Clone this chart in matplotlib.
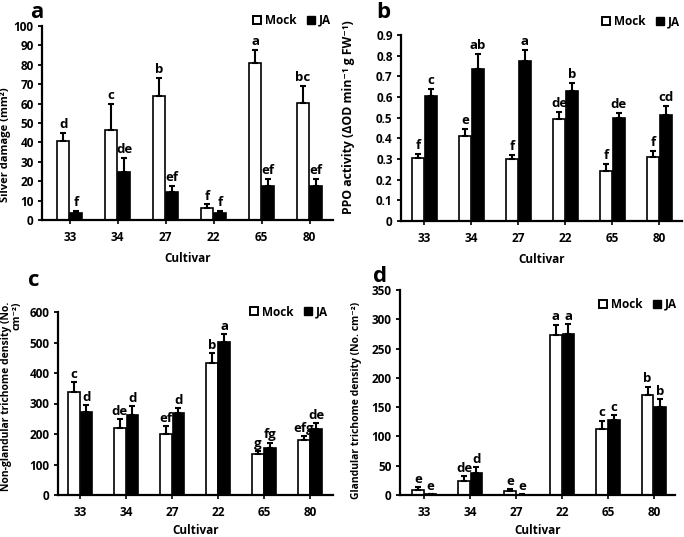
import matplotlib
matplotlib.use("Agg")
import matplotlib.pyplot as plt
from matplotlib.lines import Line2D
import numpy as np

plt.rcParams['font.family'] = ['Open Sans', 'DejaVu Sans']
plt.rcParams['font.weight'] = 'bold'

cultivars = ["33", "34", "27", "22", "65", "80"]

# Panel a: silver damage
a_mock = [40.5, 46.5, 64, 6, 81, 60.5]
a_mock_err = [4.5, 13.5, 9, 2, 6.5, 8.5]
a_ja = [3.5, 25, 14.5, 3.5, 17.5, 17.5]
a_ja_err = [1, 7, 3, 1, 3.5, 3.5]
a_mock_let = ["d", "c", "b", "f", "a", "bc"]
a_ja_let = ["f", "de", "ef", "f", "ef", "ef"]

# Panel b: PPO activity
b_mock = [0.303, 0.413, 0.30, 0.493, 0.243, 0.31]
b_mock_err = [0.021, 0.032, 0.02, 0.033, 0.031, 0.029]
b_ja = [0.606, 0.734, 0.776, 0.630, 0.50, 0.514]
b_ja_err = [0.031, 0.074, 0.051, 0.036, 0.024, 0.044]
b_mock_let = ["f", "e", "f", "de", "f", "f"]
b_ja_let = ["c", "ab", "a", "b", "de", "cd"]

# Panel c: non-glandular trichome density
c_mock = [338, 220, 200, 434, 136, 180]
c_mock_err = [31, 30, 25, 30, 8, 14]
c_ja = [273, 262, 268, 503, 155, 218]
c_ja_err = [22, 30, 16, 25, 17, 17]
c_mock_let = ["c", "de", "ef", "b", "g", "efg"]
c_ja_let = ["d", "d", "d", "a", "fg", "de"]

# Panel d: glandular trichome density
d_mock = [8, 24.5, 6, 274, 113, 170]
d_mock_err = [5, 8, 4, 17, 14, 15]
d_ja = [1, 38, 0.5, 275, 128, 150]
d_ja_err = [1, 10, 0.5, 17, 8, 14]
d_mock_let = ["e", "de", "e", "a", "c", "b"]
d_ja_let = ["e", "d", "e", "a", "c", "b"]

W, H = 684, 537
fig = plt.figure(figsize=(W / 100, H / 100), dpi=100)


def rect(l, r, t, b):
    return [l / W, 1 - b / H, (r - l) / W, (b - t) / H]


def panel(ax, mock, merr, ja, jerr, mlet, jlet, ylim, yticks, yfmt, ylabel,
          xlim, letter_off, leg_anchor, ylab_size, ylab_xy, xlab_pad):
    x = np.arange(len(cultivars))
    bw = 0.25
    off = 0.135
    ax.bar(x - off, mock, bw, color='white', edgecolor='black', linewidth=1.2,
           zorder=2)
    ax.bar(x + off, ja, bw, color='black', edgecolor='black', linewidth=1.2,
           zorder=2)
    ax.errorbar(x - off, mock, yerr=[np.zeros(len(mock)), merr], fmt='none',
                ecolor='black', elinewidth=1.5, capsize=2.2, capthick=1.5,
                zorder=3)
    ax.errorbar(x + off, ja, yerr=[np.zeros(len(ja)), jerr], fmt='none',
                ecolor='black', elinewidth=1.5, capsize=2.2, capthick=1.5,
                zorder=3)
    for xi, v, e, t in zip(x - off, mock, merr, mlet):
        ax.text(xi, v + e + letter_off, t, ha='center', va='bottom',
                fontsize=9.5, fontweight='bold')
    for xi, v, e, t in zip(x + off, ja, jerr, jlet):
        ax.text(xi, v + e + letter_off, t, ha='center', va='bottom',
                fontsize=9.5, fontweight='bold')
    ax.set_xlim(*xlim)
    ax.set_ylim(*ylim)
    ax.set_yticks(yticks)
    ax.set_yticklabels([yfmt(v) for v in yticks])
    ax.set_xticks(x)
    ax.set_xticklabels(cultivars)
    ax.tick_params(axis='x', length=3, width=1.2, direction='out', pad=5,
                   labelsize=8.5)
    ax.tick_params(axis='y', length=3, width=1.3, direction='out', labelsize=8.5,
                   pad=3)
    for lab in ax.get_xticklabels() + ax.get_yticklabels():
        lab.set_fontweight('bold')
    for s in ['top', 'right']:
        ax.spines[s].set_visible(False)
    for s in ['left', 'bottom']:
        ax.spines[s].set_linewidth(1.6)
    ax.set_xlabel("Cultivar", fontsize=8.5, fontweight='bold',
                  labelpad=xlab_pad)
    ax.set_ylabel(ylabel, fontsize=ylab_size, fontweight='bold',
                  linespacing=0.9, multialignment='right')
    ax.yaxis.set_label_coords(*ylab_xy)
    handles = [
        Line2D([], [], marker='s', linestyle='none', markersize=6.3,
               markerfacecolor='white', markeredgecolor='black',
               markeredgewidth=1.4),
        Line2D([], [], marker='s', linestyle='none', markersize=6.3,
               markerfacecolor='black', markeredgecolor='black'),
    ]
    ax.legend(handles, ["Mock", "JA"], ncol=2, frameon=False,
              loc='center right', bbox_to_anchor=leg_anchor,
              handlelength=0.8, handletextpad=0.3, columnspacing=0.8,
              prop={'size': 8.5, 'weight': 'bold'}, borderaxespad=0)


ax_a = fig.add_axes(rect(42, 333, 26, 220))
panel(ax_a, a_mock, a_mock_err, a_ja, a_ja_err, a_mock_let, a_ja_let,
      (0, 100), list(range(0, 101, 10)), lambda v: f"{v:d}",
      "Silver damage (mm²)", (-0.58, 5.49), 1.0, (1.01, 1.03),
      8.0, (-0.105, 0.39), 6)

ax_b = fig.add_axes(rect(401, 682, 35, 221))
panel(ax_b, b_mock, b_mock_err, b_ja, b_ja_err, b_mock_let, b_ja_let,
      (0, 0.9), [0, 0.1, 0.2, 0.3, 0.4, 0.5, 0.6, 0.7, 0.8, 0.9],
      lambda v: "0" if v == 0 else f"{v:.1f}",
      "PPO activity (ΔOD min⁻¹ g FW⁻¹)", (-0.5, 5.48), 0.01, (1.01, 1.07),
      8.8, (-0.165, 0.56), 6)

ax_c = fig.add_axes(rect(58, 333, 312, 495))
panel(ax_c, c_mock, c_mock_err, c_ja, c_ja_err, c_mock_let, c_ja_let,
      (0, 600), list(range(0, 601, 100)), lambda v: f"{v:d}",
      "Non-glandular trichome density (No.\ncm⁻²)", (-0.48, 5.5), 4,
      (1.0, 1.0), 7.5, (-0.13, 0.54), 3.5)

ax_d = fig.add_axes(rect(400, 675, 290, 495))
panel(ax_d, d_mock, d_mock_err, d_ja, d_ja_err, d_mock_let, d_ja_let,
      (0, 350), list(range(0, 351, 50)), lambda v: f"{v:d}",
      "Glandular trichome density (No. cm⁻²)", (-0.53, 5.46), 2,
      (1.025, 0.93), 7.5, (-0.14, 0.46), 3.5)

for t, (px, py) in zip("abcd", [(37, 12), (383, 12), (34, 281), (380, 276)]):
    fig.text(px / W, 1 - py / H, t, fontsize=16, fontweight='bold',
             ha='center', va='center')

fig.savefig("out.png", dpi=100)
